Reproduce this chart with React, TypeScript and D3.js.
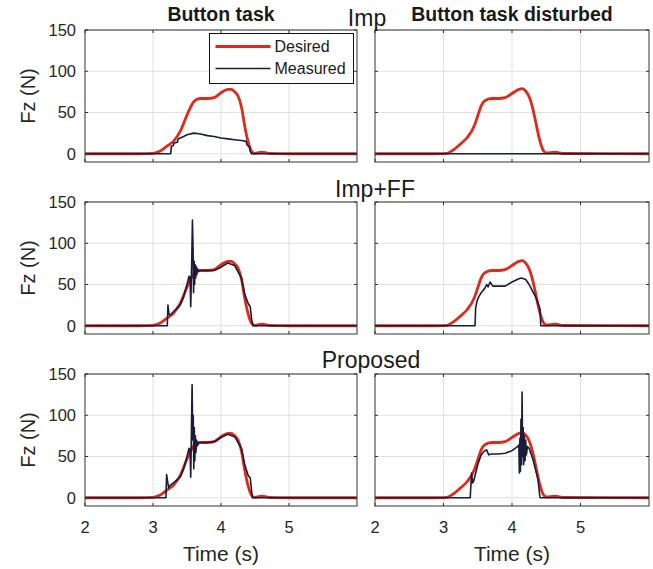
import * as d3 from 'd3';

const timeTicks = [2, 3, 4, 5];
const forceTicks = [0, 50, 100, 150];
const columnTitles = ['Button task', 'Button task disturbed'];
const rowTitles = ['Imp', 'Imp+FF', 'Proposed'];
const legendLabels = ['Desired', 'Measured'];

// desired force profiles (one per task, same in every row)
const desiredButtonT = [2, 2.8, 3.0, 3.1, 3.2, 3.3, 3.4, 3.5, 3.6, 3.65, 3.7, 3.8, 3.9, 4.0, 4.1, 4.15, 4.2, 4.25, 4.3, 4.35, 4.4, 4.45, 4.5, 4.6, 4.7, 5, 6];
const desiredButtonF = [0, 0, 0.5, 3, 9, 15, 27, 47, 63, 66, 67, 67, 68, 74, 78, 78, 75, 70, 57, 33, 14, 3, 0.5, 2, 0.5, 0, 0];
const desiredDisturbedT = [2, 2.9, 3.05, 3.15, 3.25, 3.35, 3.45, 3.5, 3.55, 3.6, 3.7, 3.8, 3.9, 4.0, 4.1, 4.15, 4.2, 4.25, 4.3, 4.35, 4.4, 4.45, 4.5, 4.63, 4.75, 6];
const desiredDisturbedF = [0, 0, 0.5, 5, 12, 20, 34, 46, 58, 64, 67, 67, 68, 73, 78, 79, 76, 69, 56, 37, 18, 5, 1, 2, 0.3, 0];

// measured forces
const impButtonT = [2, 3.26, 3.27, 3.3, 3.31, 3.36, 3.37, 3.45, 3.5, 3.6, 3.7, 3.8, 3.9, 4.0, 4.1, 4.2, 4.3, 4.37, 4.38, 4.42, 4.43, 4.45, 6];
const impButtonF = [0, 0, 9, 10, 13, 14, 18, 21, 23, 25, 24, 22, 21, 19, 18, 17, 16, 15, 11, 8, 3, 0, 0];
const impDisturbedT = [2, 6];
const impDisturbedF = [0, 0];

const ffButtonT = [2, 3.21, 3.22, 3.235, 3.25, 3.3, 3.4, 3.45, 3.5, 3.53, 3.545, 3.555, 3.57, 3.58, 3.59, 3.597, 3.605, 3.612, 3.62, 3.628, 3.636, 3.645, 3.655, 3.67, 3.7, 3.8, 3.9, 4.0, 4.1, 4.2, 4.3, 4.35, 4.4, 4.43, 4.45, 4.47, 6];
const ffButtonF = [0, 0, 25, 14, 13, 17, 25, 35, 50, 60, 58, 23, 80, 128, 90, 40, 78, 50, 74, 58, 72, 62, 69, 66, 67, 67, 67, 71, 76, 73, 58, 38, 27, 23, 8, 0, 0];
const ffDisturbedT = [2, 3.46, 3.47, 3.49, 3.52, 3.55, 3.6, 3.63, 3.65, 3.68, 3.72, 3.8, 3.9, 4.0, 4.1, 4.14, 4.2, 4.25, 4.3, 4.35, 4.39, 4.41, 4.42, 6];
const ffDisturbedF = [0, 0, 22, 30, 36, 40, 45, 50, 47, 53, 48, 48, 48, 53, 57, 58, 56, 50, 42, 34, 25, 20, 0, 0];

const propButtonT = [2, 3.19, 3.2, 3.215, 3.23, 3.25, 3.3, 3.4, 3.45, 3.5, 3.53, 3.545, 3.555, 3.565, 3.575, 3.585, 3.592, 3.6, 3.607, 3.615, 3.623, 3.632, 3.642, 3.655, 3.67, 3.7, 3.8, 3.9, 4.0, 4.1, 4.2, 4.3, 4.35, 4.4, 4.43, 4.45, 4.46, 6];
const propButtonF = [0, 0, 28, 20, 12, 15, 18, 25, 35, 50, 60, 57, 25, 80, 137, 70, 100, 35, 85, 45, 75, 55, 70, 63, 67, 67, 67, 68, 73, 77, 74, 60, 40, 27, 24, 8, 0, 0];
const propDisturbedT = [2, 3.39, 3.4, 3.41, 3.425, 3.44, 3.5, 3.55, 3.6, 3.63, 3.66, 3.7, 3.8, 3.9, 4.0, 4.08, 4.1, 4.107, 4.115, 4.123, 4.131, 4.139, 4.147, 4.155, 4.163, 4.171, 4.18, 4.19, 4.2, 4.21, 4.225, 4.25, 4.3, 4.35, 4.38, 4.4, 4.41, 6];
const propDisturbedF = [0, 0, 15, 30, 18, 20, 40, 52, 57, 58, 52, 53, 53, 54, 57, 62, 64, 30, 72, 32, 95, 40, 128, 50, 85, 40, 75, 45, 70, 52, 62, 60, 48, 32, 22, 6, 0, 0];

const RED = '#dd2a1a';
const NAVY = '#1a1c3a';
const AXIS = '#333';
const GRID = '#e1e1e1';
const FONT = '"Liberation Sans", Arial, Helvetica, sans-serif';

const colX = [85, 375];
const colW = [272, 274];
const rowY = [30, 202, 374];
const panelH = 132;

const zip = (t: number[], f: number[]) => t.map((v, i) => [v, f[i]] as [number, number]);

const panels = [
  { row: 0, col: 0, des: zip(desiredButtonT, desiredButtonF), meas: zip(impButtonT, impButtonF) },
  { row: 0, col: 1, des: zip(desiredDisturbedT, desiredDisturbedF), meas: zip(impDisturbedT, impDisturbedF) },
  { row: 1, col: 0, des: zip(desiredButtonT, desiredButtonF), meas: zip(ffButtonT, ffButtonF) },
  { row: 1, col: 1, des: zip(desiredDisturbedT, desiredDisturbedF), meas: zip(ffDisturbedT, ffDisturbedF) },
  { row: 2, col: 0, des: zip(desiredButtonT, desiredButtonF), meas: zip(propButtonT, propButtonF) },
  { row: 2, col: 1, des: zip(desiredDisturbedT, desiredDisturbedF), meas: zip(propDisturbedT, propDisturbedF) },
];

function Panel({ row, col, des, meas }: any) {
  const x0 = colX[col];
  const y0 = rowY[row];
  const w = colW[col];
  const x = d3.scaleLinear().domain([2, 6]).range([0, w]);
  const y = d3.scaleLinear().domain([-10, 150]).range([panelH, 0]);
  const smooth = d3.line<[number, number]>().x(d => x(d[0])).y(d => y(d[1])).curve(d3.curveMonotoneX);
  const raw = d3.line<[number, number]>().x(d => x(d[0])).y(d => y(d[1]));
  const clipId = `clip-${row}-${col}`;
  const tickLen = 3;

  return (
    <g transform={`translate(${x0},${y0})`}>
      <defs>
        <clipPath id={clipId}>
          <rect x={0} y={0} width={w} height={panelH} />
        </clipPath>
      </defs>
      <rect x={0} y={0} width={w} height={panelH} fill="#fff" />
      {timeTicks.slice(1).map(t => (
        <line key={'gx' + t} x1={x(t)} x2={x(t)} y1={0} y2={panelH} stroke={GRID} />
      ))}
      {forceTicks.map(f => (
        <line key={'gy' + f} x1={0} x2={w} y1={y(f)} y2={y(f)} stroke={GRID} />
      ))}
      <g clipPath={`url(#${clipId})`}>
        <path d={smooth(des) || ''} fill="none" stroke={RED} strokeWidth={2.8} strokeLinejoin="round" />
        <path d={raw(meas) || ''} fill="none" stroke={NAVY} strokeWidth={1.6} strokeLinejoin="round" />
      </g>
      {timeTicks.map(t => (
        <g key={'tx' + t}>
          <line x1={x(t)} x2={x(t)} y1={panelH} y2={panelH - tickLen} stroke={AXIS} />
          <line x1={x(t)} x2={x(t)} y1={0} y2={tickLen} stroke={AXIS} />
        </g>
      ))}
      {forceTicks.map(f => (
        <g key={'ty' + f}>
          <line x1={0} x2={tickLen} y1={y(f)} y2={y(f)} stroke={AXIS} />
          <line x1={w} x2={w - tickLen} y1={y(f)} y2={y(f)} stroke={AXIS} />
        </g>
      ))}
      <rect x={0} y={0} width={w} height={panelH} fill="none" stroke={AXIS} strokeWidth={1} />
      {col === 0 &&
        forceTicks.map(f => (
          <text key={'ly' + f} x={-9} y={y(f)} dy="0.35em" textAnchor="end" fontSize={16.5} fill="#262626">
            {f}
          </text>
        ))}
      {col === 0 && (
        <text transform={`translate(-50,${panelH / 2}) rotate(-90)`} textAnchor="middle" fontSize={20} fill="#262626">
          Fz (N)
        </text>
      )}
      {row === 2 &&
        timeTicks.map(t => (
          <text key={'lx' + t} x={x(t)} y={panelH + 27} textAnchor="middle" fontSize={16.5} fill="#262626">
            {t}
          </text>
        ))}
      {row === 2 && (
        <text x={w / 2} y={panelH + 55} textAnchor="middle" fontSize={21} fill="#262626">
          Time (s)
        </text>
      )}
      {row === 0 && (
        <text x={w / 2} y={-9} textAnchor="middle" fontSize={19.5} fontWeight="bold" fill="#1a1a1a">
          {columnTitles[col]}
        </text>
      )}
    </g>
  );
}

export default function App() {
  const rowTitleX = [367, 375, 371];
  const rowTitleY = [26, 197, 368];
  const legendColors = [RED, NAVY];
  return (
    <svg
      width={653}
      height={569}
      style={{ position: 'absolute', left: 0, top: 0, background: '#fff' }}
      fontFamily={FONT}
    >
      <rect width={653} height={569} fill="#fff" />
      {panels.map(p => (
        <Panel key={`${p.row}-${p.col}`} {...p} />
      ))}
      {rowTitles.map((t, i) => (
        <text key={t} x={rowTitleX[i]} y={rowTitleY[i]} textAnchor="middle" fontSize={23} fill="#1a1a1a">
          {t}
        </text>
      ))}
      <g transform="translate(209.5,33.5)">
        <rect width={144} height={50} fill="#fff" stroke="#111" strokeWidth={1} />
        {legendLabels.map((l, i) => (
          <g key={l} transform={`translate(0,${13 + i * 22})`}>
            <line x1={6} x2={61} y1={0} y2={0} stroke={legendColors[i]} strokeWidth={i === 0 ? 2.8 : 1.6} />
            <text x={65} y={0} dy="0.35em" fontSize={16} fill="#1a1a1a">
              {l}
            </text>
          </g>
        ))}
      </g>
    </svg>
  );
}
